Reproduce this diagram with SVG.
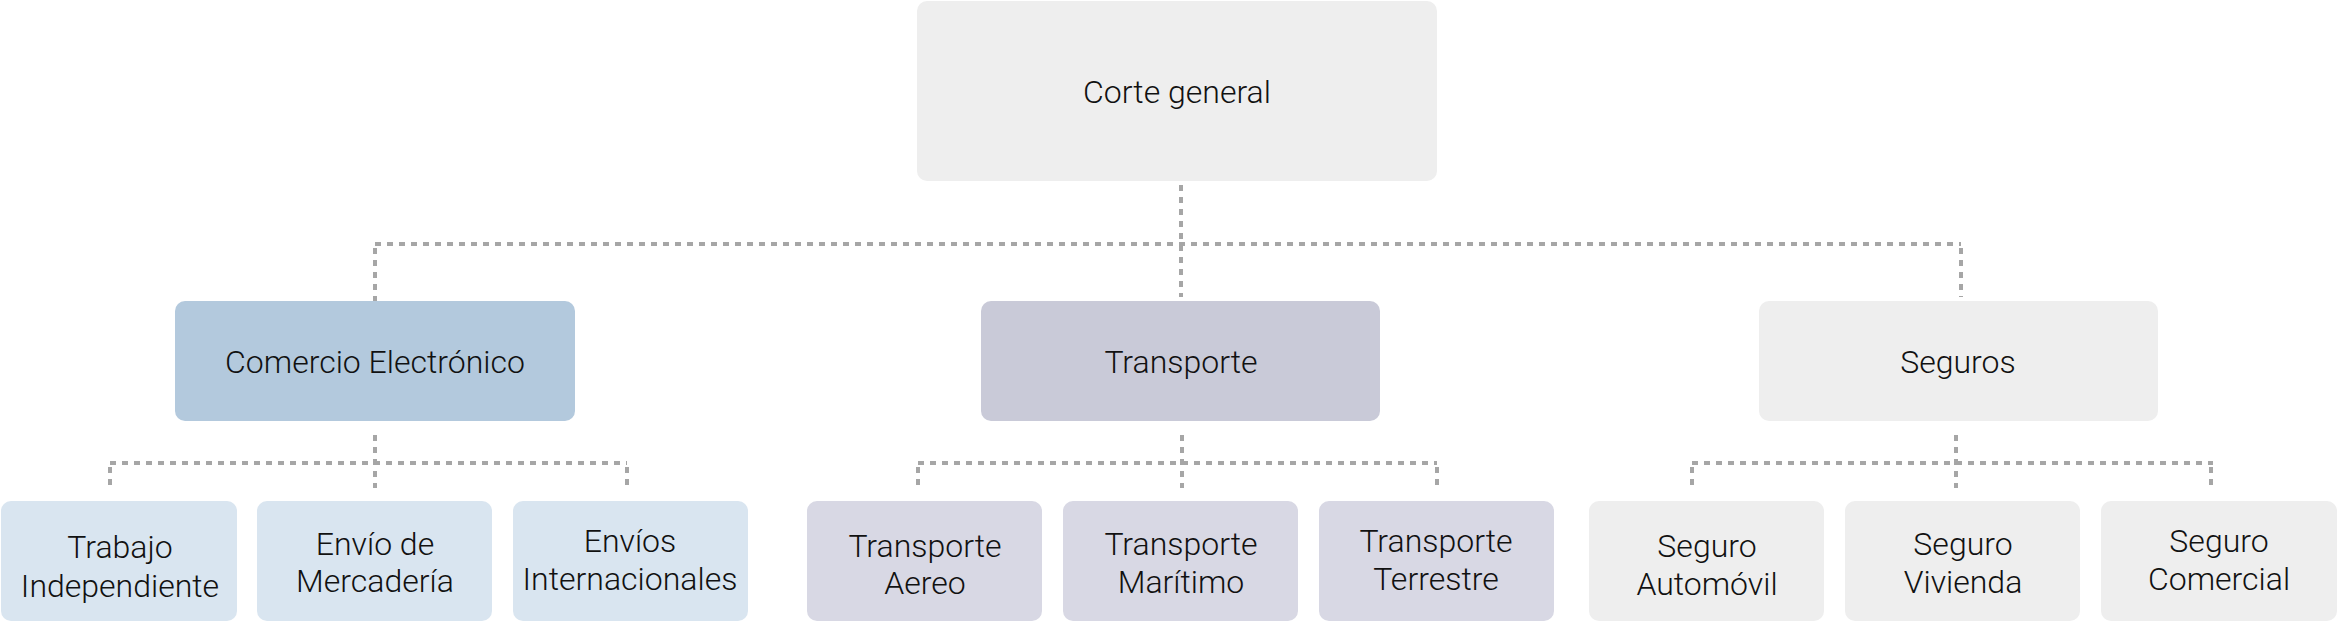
<svg xmlns="http://www.w3.org/2000/svg" width="2337" height="621" viewBox="0 0 2337 621">
<style>
text{font-family:Roboto,"Liberation Sans",sans-serif;font-weight:300;fill:#111;text-anchor:middle}
.t1{font-size:32px}
.t2{font-size:32px}
.t3{font-size:32px}
.c{fill:none;stroke:#a6a6a6;stroke-width:4;stroke-dasharray:6 6}
.g{fill:#eeeeee}
.b2{fill:#b3c9dd}
.b3{fill:#d9e5f0}
.p2{fill:#c9cad8}
.p3{fill:#d8d8e4}
</style>
<rect width="2337" height="621" fill="#ffffff"/>
<g id="connectors">
<path class="c" d="M1181 185V297"/>
<path class="c" d="M375 244H1961"/>
<path class="c" d="M375 248V301"/>
<path class="c" d="M1961 248V297"/>
<path class="c" d="M375 435V488"/>
<path class="c" d="M110 463H627"/>
<path class="c" d="M110 467V489"/>
<path class="c" d="M627 467V489"/>
<path class="c" d="M1182 435V488"/>
<path class="c" d="M918 463H1437"/>
<path class="c" d="M918 467V489"/>
<path class="c" d="M1437 467V489"/>
<path class="c" d="M1956 435V488"/>
<path class="c" d="M1692 463H2213"/>
<path class="c" d="M1692 467V489"/>
<path class="c" d="M2211 467V489"/>
</g>
<g id="corte"><rect class="g" x="917" y="1" width="520" height="180" rx="10"/><text class="t1" x="1177" y="103">Corte general</text></g>
<g id="comercio"><rect class="b2" x="175" y="301" width="400" height="120" rx="10"/><text class="t2" x="375" y="373">Comercio Electrónico</text></g>
<g id="transporte"><rect class="p2" x="981" y="301" width="399" height="120" rx="10"/><text class="t2" x="1181" y="373">Transporte</text></g>
<g id="seguros"><rect class="g" x="1759" y="301" width="399" height="120" rx="10"/><text class="t2" x="1958" y="373">Seguros</text></g>
<g id="trabajo"><rect class="b3" x="1" y="501" width="236" height="120" rx="10"/><text class="t3" x="120" y="558">Trabajo</text><text class="t3" x="120" y="597">Independiente</text></g>
<g id="envio"><rect class="b3" x="257" y="501" width="235" height="120" rx="10"/><text class="t3" x="375" y="555">Envío de</text><text class="t3" x="375" y="592">Mercadería</text></g>
<g id="envios"><rect class="b3" x="513" y="501" width="235" height="120" rx="10"/><text class="t3" x="630" y="552">Envíos</text><text class="t3" x="630" y="590">Internacionales</text></g>
<g id="aereo"><rect class="p3" x="807" y="501" width="235" height="120" rx="10"/><text class="t3" x="925" y="557">Transporte</text><text class="t3" x="925" y="594">Aereo</text></g>
<g id="maritimo"><rect class="p3" x="1063" y="501" width="235" height="120" rx="10"/><text class="t3" x="1181" y="555">Transporte</text><text class="t3" x="1181" y="593">Marítimo</text></g>
<g id="terrestre"><rect class="p3" x="1319" y="501" width="235" height="120" rx="10"/><text class="t3" x="1436" y="552">Transporte</text><text class="t3" x="1436" y="590">Terrestre</text></g>
<g id="automovil"><rect class="g" x="1589" y="501" width="235" height="120" rx="10"/><text class="t3" x="1707" y="557">Seguro</text><text class="t3" x="1707" y="595">Automóvil</text></g>
<g id="vivienda"><rect class="g" x="1845" y="501" width="235" height="120" rx="10"/><text class="t3" x="1963" y="555">Seguro</text><text class="t3" x="1963" y="593">Vivienda</text></g>
<g id="comercial"><rect class="g" x="2101" y="501" width="236" height="120" rx="10"/><text class="t3" x="2219" y="552">Seguro</text><text class="t3" x="2219" y="590">Comercial</text></g>
</svg>
